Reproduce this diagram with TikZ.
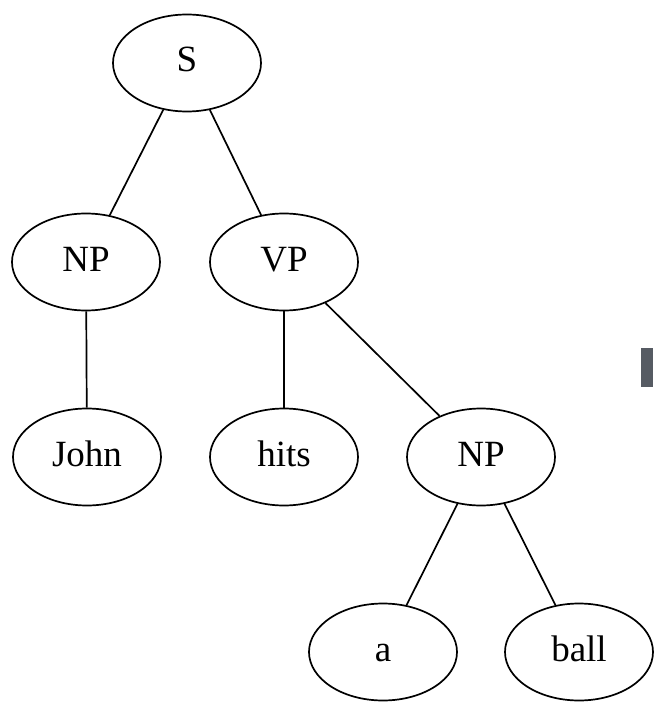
\documentclass[tikz,border=0pt]{standalone}
\usepackage{fontspec}
\setmainfont{Liberation Serif}
\usetikzlibrary{shapes.geometric}
\definecolor{tabgray}{HTML}{565B63}
\begin{document}
\begin{tikzpicture}[x=1pt,y=-1pt,
  tnode/.style={draw, line width=1.7pt, ellipse, minimum width=148pt, minimum height=97pt,
    inner sep=0pt, text height=25pt, text depth=7pt,
    font=\fontsize{37}{40}\selectfont},
  tedge/.style={line width=1.7pt}]
  \useasboundingbox (0,0) rectangle (653,703);
  % tree nodes
  \node[tnode] (s)    at (187,63)  {S};
  \node[tnode] (np1)  at (86,262)  {NP};
  \node[tnode] (vp)   at (284,262) {VP};
  \node[tnode] (john) at (87,457)  {John};
  \node[tnode] (hits) at (284,457) {hits};
  \node[tnode] (np2)  at (481,457) {NP};
  \node[tnode] (a)    at (383,652) {a};
  \node[tnode] (ball) at (579,652) {ball};
  % branches
  \draw[tedge] (s) -- (np1);
  \draw[tedge] (s) -- (vp);
  \draw[tedge] (np1) -- (john);
  \draw[tedge] (vp) -- (hits);
  \draw[tedge] (vp) -- (np2);
  \draw[tedge] (np2) -- (a);
  \draw[tedge] (np2) -- (ball);
  % small tab at the right edge
  \fill[tabgray] (641,348) rectangle (653,387);
\end{tikzpicture}
\end{document}
